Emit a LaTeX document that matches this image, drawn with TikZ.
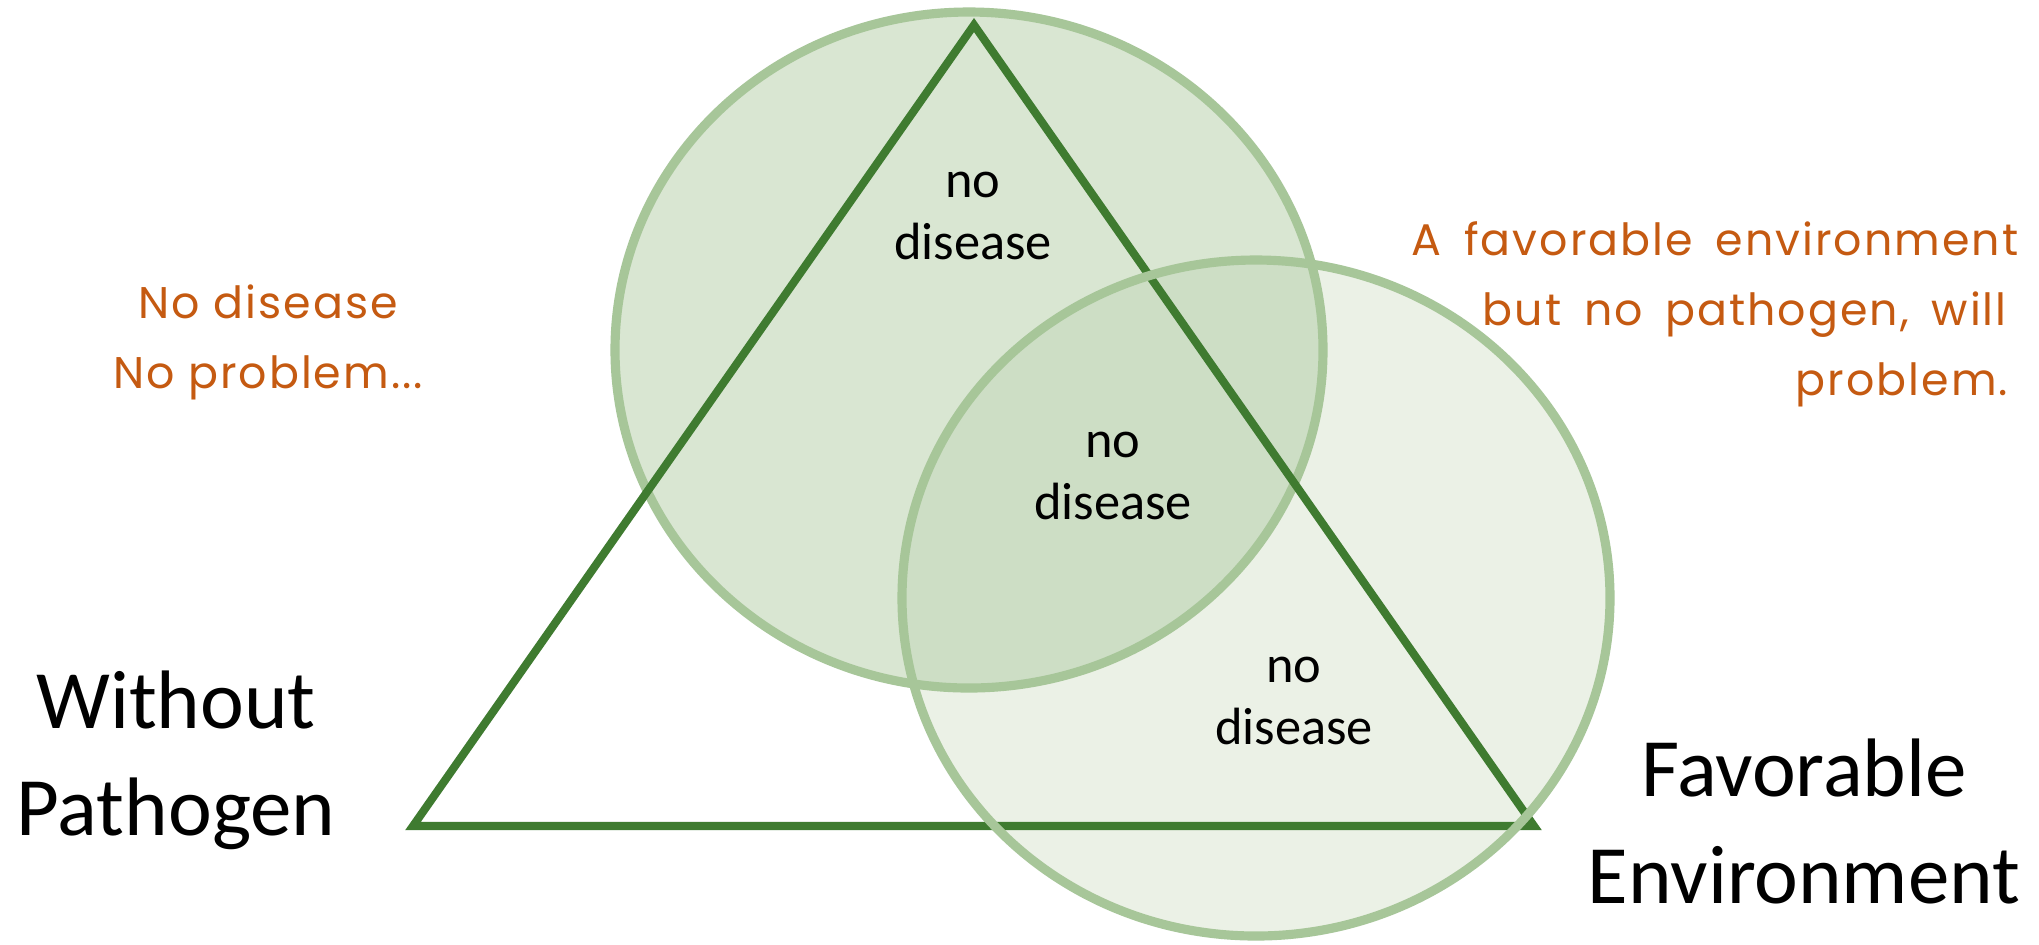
\documentclass[tikz,border=0pt]{standalone}
\usepackage{fontspec}
\setmainfont{Carlito}
\newfontfamily\handfont[LetterSpace=4.5]{Poppins}
\newcommand\widewordgaps{\spaceskip=6.5pt plus 1pt\relax}
\definecolor{hostfill}{HTML}{D9E6D2}
\definecolor{envfill}{HTML}{EBF1E6}
\definecolor{bothfill}{HTML}{CDDEC5}
\definecolor{ringline}{HTML}{A7C699}
\definecolor{triline}{HTML}{3F7B30}
\definecolor{noteorange}{HTML}{C55A11}
\begin{document}
\begin{tikzpicture}[x=0.01cm,y=-0.01cm,
  ring/.style={draw=ringline,line width=2.6pt},
  tri/.style={draw=triline,line width=2.3pt,line join=miter},
  biglabel/.style={font=\fontsize{23.6pt}{30.4pt}\selectfont,align=center,inner sep=0pt,anchor=base},
  small/.style={font=\fontsize{14.9pt}{17.6pt}\selectfont,align=center,inner sep=0pt,anchor=base},
  note/.style={font=\handfont\fontsize{12.6pt}{19.9pt}\selectfont,text=noteorange,inner sep=0pt}]
\useasboundingbox (0,0) rectangle (2039,944);
\clip (0,0) rectangle (2039,944);
\fill[white] (0,0) rectangle (2039,944);

% centres of the two rings and corners of the triangle
\coordinate (host) at (969,350);
\coordinate (env) at (1256,598);
\coordinate (apex) at (974,25);
\coordinate (left) at (413,826);
\coordinate (right) at (1534,826);

% ring fills, with the shared lens in a darker tint
\fill[hostfill] (host) ellipse [x radius=354, y radius=338];
\fill[envfill] (env) ellipse [x radius=354, y radius=338];
\begin{scope}
  \clip (host) ellipse [x radius=354, y radius=338];
  \fill[bothfill] (env) ellipse [x radius=354, y radius=338];
\end{scope}

\path[ring] (host) ellipse [x radius=354, y radius=338];
\path[tri] (apex) -- (left) -- (right) -- cycle;
\path[ring] (env) ellipse [x radius=354, y radius=338];

% labels inside the triangle (anchored on the baseline of the last line)
\node[small] (d1) at (973,259) {no\\disease};
\node[small] (d2) at (1113,519) {no\\disease};
\node[small] (d3) at (1294,744) {no\\disease};

% corner labels
\node[biglabel] (wp) at (176,835) {Without\\Pathogen};
\node[biglabel] (fe) at (1804,903) {Favorable\\Environment};

% handwritten notes
\node[note,align=center,anchor=base] (n1) at (268,388) {No disease\\No problem...};
\node[note,align=left,anchor=base west,
      font=\handfont\fontsize{12.6pt}{19.9pt}\selectfont\widewordgaps] (n2) at (1411,395)
  {A favorable environment\\\hspace*{0.71cm}but no pathogen, will\\\hspace*{3.84cm}problem.};
\end{tikzpicture}
\end{document}
